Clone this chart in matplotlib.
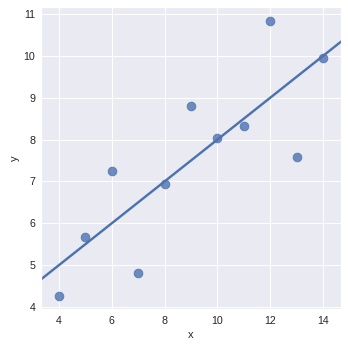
import matplotlib
matplotlib.use("Agg")
import matplotlib.pyplot as plt
import pandas as pd
import seaborn as sns

# Anscombe dataset I
x = [10, 8, 13, 9, 11, 14, 6, 4, 12, 7, 5]
y = [8.04, 6.95, 7.58, 8.81, 8.33, 9.96, 7.24, 4.26, 10.84, 4.82, 5.68]

df = pd.DataFrame({"x": x, "y": y})

sns.set_theme(style="darkgrid")
plt.rcParams["font.family"] = ["Liberation Sans", "DejaVu Sans"]
plt.rcParams["xtick.labelsize"] = 11
plt.rcParams["ytick.labelsize"] = 11
plt.rcParams["axes.labelsize"] = 11.5

fig, ax = plt.subplots(figsize=(5, 5))
ax.set_xlim(3.32, 14.68)
ax.set_ylim(3.95, 11.17)
sns.regplot(data=df, x="x", y="y", ci=None, truncate=False, ax=ax,
            scatter_kws={"s": 80}, line_kws={"lw": 2.5})
ax.set_xlim(3.32, 14.68)
ax.set_ylim(3.95, 11.17)
ax.set_xticks([4, 6, 8, 10, 12, 14])
ax.set_yticks([4, 5, 6, 7, 8, 9, 10, 11])
ax.tick_params(axis="x", length=0, pad=7)
ax.tick_params(axis="y", length=0, pad=6)

fig.subplots_adjust(left=0.118, right=0.980, top=0.980, bottom=0.112)
fig.savefig("out.png", dpi=69.6)
